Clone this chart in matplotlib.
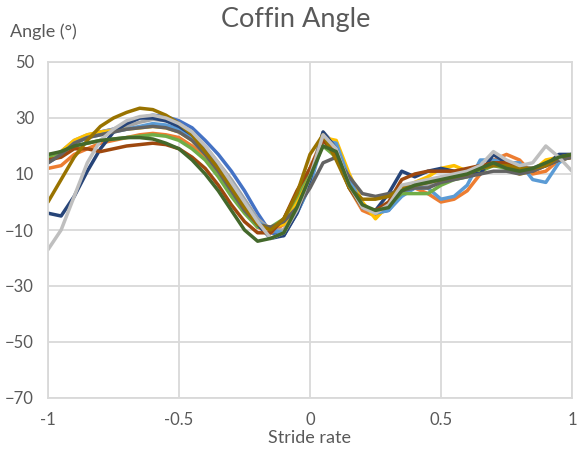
import numpy as np
import matplotlib
matplotlib.use('Agg')
import matplotlib.pyplot as plt

# stride rate from -1 to 1 in steps of 0.05
stride = [-1, -0.95, -0.9, -0.85, -0.8, -0.75, -0.7, -0.65, -0.6, -0.55, -0.5,
          -0.45, -0.4, -0.35, -0.3, -0.25, -0.2, -0.15, -0.1, -0.05, 0,
          0.05, 0.1, 0.15, 0.2, 0.25, 0.3, 0.35, 0.4, 0.45, 0.5,
          0.55, 0.6, 0.65, 0.7, 0.75, 0.8, 0.85, 0.9, 0.95, 1]

blue = [14, 17, 21, 23, 25, 26, 28, 30, 31, 30.5, 29, 26.5, 22, 17, 11, 4, -4, -11, -12, -4, 6,
        24, 19, 7, -1, -4, -3, 3, 6, 7, 8, 9, 10, 12, 13, 13, 12, 12, 14, 16, 17]
orange = [12, 13, 17, 19, 21, 22, 23, 24, 24.5, 24, 23, 20, 16, 10, 4, -3, -9, -11, -8, 0, 12,
          23, 17, 5, -3, -5, -2, 3, 5, 3, 0, 1, 4, 10, 15, 17, 15, 10, 11, 15, 16]
gray = [15, 18, 22, 24, 25, 26, 27, 28.5, 29.5, 29, 28, 25, 20, 14, 8, 1, -6, -10, -10, -2, 10,
        25, 20, 7, -1, -4, -2, 3, 5, 6, 8, 9, 10, 12, 14, 13, 12, 12, 14, 16, 16]
gold = [15, 18, 22, 24, 25, 25.5, 26, 26.5, 27, 26.5, 25, 22, 17, 11, 5, -2, -8, -9, -8, 0, 10,
        23, 22, 10, 0, -6, -1, 5, 7, 9, 12, 13, 11, 12, 14, 12, 10, 11, 15, 16, 17]
light_blue = [14, 17, 21, 23, 24, 25, 26, 27, 28, 27.5, 26, 23, 19, 13, 7, 0, -7, -10, -11, -4, 6,
              22, 21, 8, -1, -4, -3, 2, 5, 5, 1, 2, 6, 15, 15, 14, 14, 8, 7, 14, 17]
green = [16, 18, 20, 21, 22, 22.5, 23, 23.5, 24, 23.5, 22, 19, 15, 9, 2, -4, -9, -9, -6, 2, 12,
         20, 16, 5, -2, -3, -1, 3, 3, 3, 6, 8, 9, 11, 13, 12, 11, 12, 13, 15, 16]
dark_blue = [-4, -5, 2, 11, 19, 25, 28, 30, 30, 29, 27, 24, 19, 13, 6, -1, -8, -13, -12, -4, 8,
             25, 19, 6, -2, -3, 3, 11, 9, 11, 12, 11, 11, 10, 17, 14, 12, 12, 13, 17, 17]
brown = [15, 16, 19, 19, 18, 19, 20, 20.5, 21, 20.5, 19, 16, 12, 6, -1, -7, -11, -11, -6, 4, 12,
         22, 17, 5, -2, -3, 0, 8, 10, 11, 11, 11, 12, 13, 14, 14, 12, 11, 13, 15, 16]
dark_gray = [14, 17, 21, 23, 24, 25, 26, 26.5, 27, 26.5, 25, 22, 17, 11, 4, -3, -8, -9, -7, -2, 5,
             14, 16, 9, 3, 2, 3, 4, 5, 5, 7, 8, 9, 10, 11, 11, 10, 11, 13, 15, 16]
dark_gold = [0, 8, 16, 22, 27, 30, 32, 33.5, 33, 31, 28, 24, 18, 12, 5, -2, -8, -10, -6, 3, 17,
             24, 15, 5, 1, 1, 2, 5, 6, 7, 8, 9, 10, 12, 13, 13, 12, 12, 13, 16, 17]
light_gray = [-17, -10, 2, 14, 22, 26, 29, 30.5, 31, 30, 28, 25, 20, 14, 7, 0, -7, -13, -11, -3, 9,
              24, 19, 6, -2, -4, -1, 6, 7, 8, 9, 10, 11, 13, 18, 15, 13, 14, 20, 16, 11]
dark_green = [17, 18, 20, 21, 22, 22.5, 23, 23, 22.5, 21, 19, 15, 10, 4, -3, -10, -14, -13, -11, -2, 9,
              20, 18, 6, -1, -3, -2, 4, 6, 7, 8, 9, 10, 12, 14, 12, 11, 12, 14, 16, 17]

series = [blue, orange, gray, gold, light_blue, green,
          dark_blue, brown, dark_gray, dark_gold, light_gray, dark_green]
colors = ['#4472C4', '#ED7D31', '#A5A5A5', '#FFC000', '#5B9BD5', '#70AD47',
          '#264478', '#9E480E', '#636363', '#997300', '#BFBFBF', '#43682B']

plt.rcParams['font.family'] = ['Lato', 'DejaVu Sans']
txt = '#595959'

fig = plt.figure(figsize=(5.77, 4.54), dpi=100)
ax = fig.add_axes([48 / 577, 1 - 398 / 454, 524 / 577, 336 / 454])

for vals, c in zip(series, colors):
    ax.plot(stride, vals, color=c, lw=2.5, solid_capstyle='round', solid_joinstyle='round')

ax.set_xlim(-1, 1)
ax.set_ylim(-70, 50)
ax.set_xticks([-1, -0.5, 0, 0.5, 1])
ax.set_xticklabels(['-1', '-0.5', '0', '0.5', '1'])
ax.set_yticks(range(-70, 51, 20))
ax.grid(True, color='#D9D9D9', lw=1.3)
ax.set_axisbelow(True)
for s in ax.spines.values():
    s.set_color('#D9D9D9')
    s.set_linewidth(1.3)
ax.tick_params(length=0, labelsize=12, labelcolor=txt, pad=10)

fig.text(296 / 577, 1 - 20 / 454, 'Coffin Angle', ha='center', va='center', fontsize=19.5, color=txt)
fig.text(10 / 577, 1 - 32 / 454, 'Angle (°)', ha='left', va='center', fontsize=13, color=txt)
fig.text(310 / 577, 1 - 438 / 454, 'Stride rate', ha='center', va='center', fontsize=13, color=txt)

fig.savefig('out.png', dpi=100)
